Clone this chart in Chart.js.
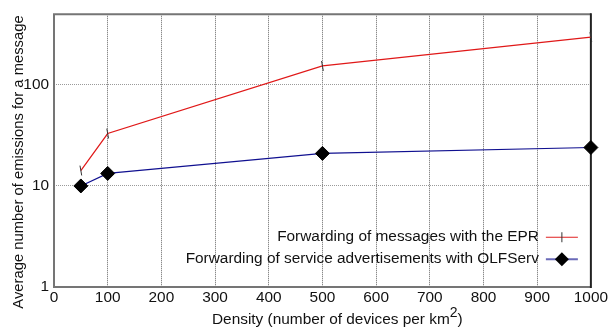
<!DOCTYPE html>
<html>
<head>
<meta charset="utf-8">
<script src="https://cdn.jsdelivr.net/npm/chart.js@4/dist/chart.umd.min.js"></script>
<style>
  html, body { margin: 0; padding: 0; background: #fff; }
  #wrap { width: 610px; height: 328px; }
</style>
</head>
<body>
<div id="wrap"><canvas id="c" width="610" height="328"></canvas></div>
<script>
// Node density (devices per km^2)
const densities = [50, 100, 500, 1000];
// Average emissions per message
const eprValues = [14.2, 33, 154, 297];
const olfservValues = [10, 13.3, 21, 24];
// Axis ticks
const xTicks = [0, 100, 200, 300, 400, 500, 600, 700, 800, 900, 1000];
const yTicks = [1, 10, 100];
const seriesLabels = [
  'Forwarding of messages with the EPR',
  'Forwarding of service advertisements with OLFServ'
];

const FONT = '"Liberation Sans", Arial, sans-serif';
const FS = 15.4;

const toPts = (xs, ys) => xs.map((x, i) => ({ x, y: ys[i] }));

// Frame around the plot area
const framePlugin = {
  id: 'frame',
  beforeDatasetsDraw(chart) {
    const { ctx, chartArea: a } = chart;
    ctx.save();
    ctx.lineWidth = 2;
    ctx.strokeStyle = '#757575';
    ctx.beginPath();
    ctx.moveTo(a.right, a.top);
    ctx.lineTo(a.left, a.top);
    ctx.lineTo(a.left, a.bottom);
    ctx.lineTo(a.right, a.bottom);
    ctx.stroke();
    ctx.strokeStyle = '#222';
    ctx.beginPath();
    ctx.moveTo(a.right, a.top - 1);
    ctx.lineTo(a.right, a.bottom + 1);
    ctx.stroke();
    ctx.restore();
  }
};

// Legend inside the plot: text right-aligned, sample on the right
const legendPlugin = {
  id: 'innerLegend',
  afterDraw(chart) {
    const { ctx, chartArea: a } = chart;
    ctx.save();
    ctx.font = FS + 'px ' + FONT;
    ctx.textAlign = 'right';
    ctx.textBaseline = 'middle';
    const textRight = a.right - 52;
    const x0 = a.right - 45, x1 = a.right - 13, xm = (x0 + x1) / 2;
    const rows = [a.top + 223, a.top + 245];
    chart.data.datasets.forEach((ds, i) => {
      const y = rows[i];
      ctx.fillStyle = '#111';
      ctx.fillText(ds.label, textRight, y);
      ctx.strokeStyle = i === 0 ? '#e02020' : '#6a6ab8';
      ctx.lineWidth = i === 0 ? 1.2 : 2;
      ctx.beginPath();
      ctx.moveTo(x0, y);
      ctx.lineTo(x1, y);
      ctx.stroke();
      if (i === 0) {
        ctx.strokeStyle = '#333';
        ctx.lineWidth = 1;
        ctx.beginPath();
        ctx.moveTo(xm, y - 5);
        ctx.lineTo(xm, y + 5);
        ctx.stroke();
      } else {
        ctx.fillStyle = '#000';
        ctx.beginPath();
        ctx.moveTo(xm, y - 7);
        ctx.lineTo(xm + 7, y);
        ctx.lineTo(xm, y + 7);
        ctx.lineTo(xm - 7, y);
        ctx.closePath();
        ctx.fill();
      }
    });
    ctx.restore();
  }
};

// Axis titles (x title carries a superscript)
const titlesPlugin = {
  id: 'axisTitles',
  afterDraw(chart) {
    const { ctx } = chart;
    ctx.save();
    ctx.fillStyle = '#111';
    ctx.textBaseline = 'alphabetic';
    const main = 'Density (number of devices per km';
    const sup = '2';
    const close = ')';
    ctx.font = FS + 'px ' + FONT;
    const wMain = ctx.measureText(main).width;
    ctx.font = '14px ' + FONT;
    const wSup = ctx.measureText(sup).width;
    let x = 212;
    const yb = 324;
    ctx.textAlign = 'left';
    ctx.font = FS + 'px ' + FONT;
    ctx.fillText(main, x, yb);
    x += wMain;
    ctx.font = '14px ' + FONT;
    ctx.fillText(sup, x, yb - 7);
    x += wSup;
    ctx.font = FS + 'px ' + FONT;
    ctx.fillText(close, x, yb);
    // y title
    ctx.font = '14.8px ' + FONT;
    ctx.translate(23, 162);
    ctx.rotate(-Math.PI / 2);
    ctx.textAlign = 'center';
    ctx.fillText('Average number of emissions for a message', 0, 0);
    ctx.restore();
  }
};

new Chart(document.getElementById('c'), {
  type: 'line',
  data: {
    datasets: [
      {
        label: seriesLabels[0],
        data: toPts(densities, eprValues),
        borderColor: '#e01818',
        borderWidth: 1.2,
        pointStyle: 'line',
        pointRotation: 80,
        pointRadius: 5,
        pointBorderColor: '#333',
        pointBorderWidth: 1,
        pointBackgroundColor: '#333',
        tension: 0,
        clip: false
      },
      {
        label: seriesLabels[1],
        data: toPts(densities, olfservValues),
        borderColor: '#101090',
        borderWidth: 1.2,
        pointStyle: 'rectRot',
        pointRadius: 7,
        pointBorderColor: '#000',
        pointBackgroundColor: '#000',
        pointBorderWidth: 1,
        tension: 0,
        clip: false
      }
    ]
  },
  options: {
    responsive: false,
    animation: false,
    devicePixelRatio: 1,
    layout: { padding: { top: 12, right: 16, left: 0, bottom: 0 } },
    plugins: { legend: { display: false }, tooltip: { enabled: false } },
    scales: {
      x: {
        type: 'linear',
        min: 0,
        max: 1000,
        afterBuildTicks(scale) { scale.ticks = xTicks.map(v => ({ value: v })); },
        afterFit(scale) { scale.height = 41; },
        ticks: {
          font: { family: FONT, size: FS },
          color: '#111',
          padding: 2,
          maxRotation: 0,
          autoSkip: false,
          callback: v => String(v)
        },
        grid: {
          color: '#666',
          lineWidth: 1,
          drawTicks: false,
          tickLength: 0
        },
        border: { display: false, dash: [1, 1] }
      },
      y: {
        type: 'logarithmic',
        min: 1,
        max: 500,
        afterBuildTicks(scale) { scale.ticks = yTicks.map(v => ({ value: v })); },
        afterFit(scale) { scale.width = 54; },
        ticks: {
          font: { family: FONT, size: FS },
          color: '#111',
          padding: 5,
          callback: v => String(v)
        },
        grid: {
          color: '#9a9a9a',
          lineWidth: 1,
          drawTicks: false,
          tickLength: 0
        },
        border: { display: false, dash: [1, 1] }
      }
    }
  },
  plugins: [framePlugin, legendPlugin, titlesPlugin]
});
</script>
</body>
</html>
